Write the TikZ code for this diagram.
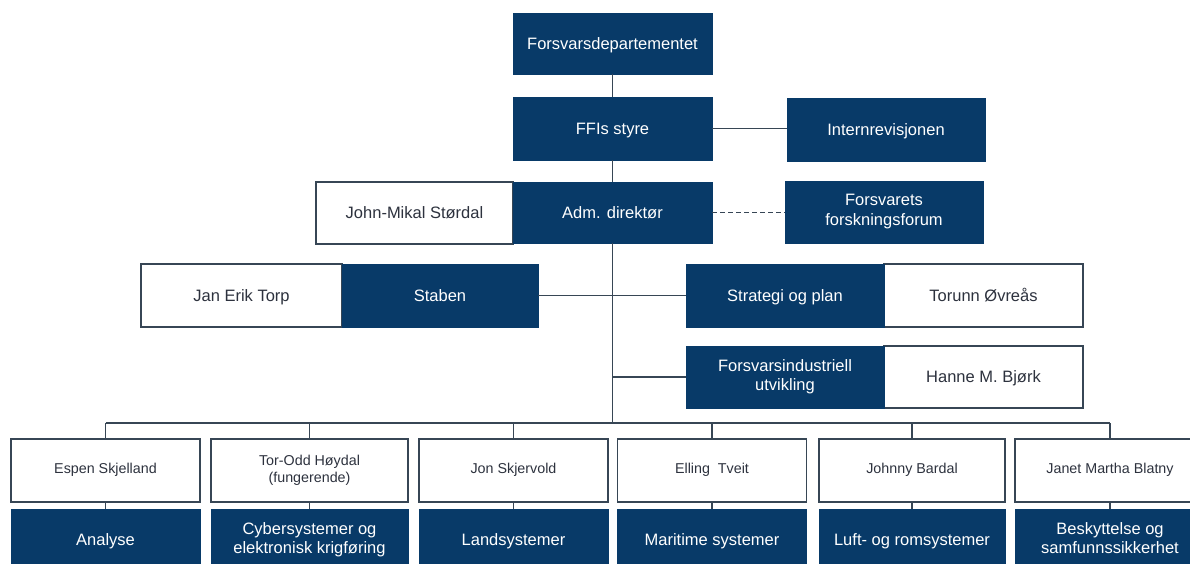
\documentclass[tikz,border=0pt]{standalone}
\usepackage{fontspec}
\setmainfont{Liberation Sans}
\definecolor{navy}{RGB}{8,58,104}
\definecolor{edge}{RGB}{55,70,85}
\definecolor{ink}{RGB}{45,50,62}
\newcommand\capstrut{\rule[-4pt]{0pt}{19.8pt}}
\newcommand\smallcapstrut{\rule[-3.5pt]{0pt}{13.7pt}}
\tikzset{
  darkbox/.style={rectangle, fill=navy, draw=navy, text=white, inner sep=0pt, outer sep=0pt, align=center, font=\fontsize{16.5}{19.5}\selectfont, execute at begin node={\capstrut}, execute at end node={\capstrut}},
  lightbox/.style={rectangle, fill=white, draw=edge, line width=1.2pt, text=ink, inner sep=0pt, outer sep=0pt, align=center, font=\fontsize{16.5}{19.5}\selectfont, execute at begin node={\capstrut}, execute at end node={\capstrut}},
  namebox/.style={rectangle, fill=white, draw=edge, line width=1.2pt, text=ink, inner sep=0pt, outer sep=0pt, align=center, font=\fontsize{14.3}{17}\selectfont, execute at begin node={\smallcapstrut}, execute at end node={\smallcapstrut}},
  conn/.style={draw=edge, line width=1.2pt},
}
\begin{document}
\begin{tikzpicture}[x=1pt,y=-1pt]
\path[use as bounding box, clip] (0,0) rectangle (1190,564);
\fill[white] (0,0) rectangle (1190,564);

% top part
\node[darkbox, minimum width=199pt, minimum height=61pt] (fd) at (612.5,43.5) {Forsvarsdepartementet};
\node[darkbox, minimum width=199pt, minimum height=63pt] (styre) at (612.5,128.5) {FFIs styre};
\node[darkbox, minimum width=198pt, minimum height=63pt] (intern) at (886,129.5) {Internrevisjonen};
\node[lightbox, minimum width=197pt, minimum height=62pt] (john) at (414.5,213) {John-Mikal Størdal};
\node[darkbox, minimum width=199pt, minimum height=61pt] (adm) at (612.5,212.5) {Adm. direktør};
\node[darkbox, minimum width=198pt, minimum height=62pt] (fff) at (884,212) {Forsvarets\\forskningsforum};

\node[lightbox, minimum width=201pt, minimum height=63pt] (torp) at (241.5,295.5) {Jan Erik Torp};
\node[darkbox, minimum width=196pt, minimum height=63pt] (staben) at (440,295.5) {Staben};
\node[lightbox, minimum width=199pt, minimum height=63pt] (torunn) at (983.5,295.5) {Torunn Øvreås};
\node[darkbox, minimum width=198pt, minimum height=63pt] (strat) at (785,295.5) {Strategi og plan};
\node[lightbox, minimum width=199pt, minimum height=62pt] (hanne) at (983.5,377) {Hanne M. Bjørk};
\node[darkbox, minimum width=198pt, minimum height=62pt] (fi) at (785,377) {Forsvarsindustriell\\utvikling};

% bottom row
\node[namebox, minimum width=189pt, minimum height=63pt] (n1) at (105.5,470.5) {Espen Skjelland};
\node[namebox, minimum width=197pt, minimum height=63pt] (n2) at (309.5,470.5) {Tor-Odd Høydal\\(fungerende)};
\node[namebox, minimum width=189pt, minimum height=63pt] (n3) at (513.5,470.5) {Jon Skjervold};
\node[namebox, minimum width=189pt, minimum height=63pt] (n4) at (712,470.5) {Elling \ Tveit};
\node[namebox, minimum width=186pt, minimum height=63pt] (n5) at (912,470.5) {Johnny Bardal};
\node[namebox, minimum width=190pt, minimum height=63pt] (n6) at (1110,470.5) {Janet Martha Blatny};

\node[darkbox, minimum width=189pt, minimum height=62pt] (d1) at (105.5,540) {Analyse};
\node[darkbox, minimum width=197pt, minimum height=62pt] (d2) at (309.5,540) {Cybersystemer og\\elektronisk krigføring};
\node[darkbox, minimum width=189pt, minimum height=62pt] (d3) at (513.5,540) {Landsystemer};
\node[darkbox, minimum width=189pt, minimum height=62pt] (d4) at (712,540) {Maritime systemer};
\node[darkbox, minimum width=186pt, minimum height=62pt] (d5) at (912,540) {Luft- og romsystemer};
\node[darkbox, minimum width=190pt, minimum height=62pt] (d6) at (1110,540) {Beskyttelse og\\samfunnssikkerhet};

% connectors
\coordinate (bus) at (612.5,423);
\draw[conn] (fd.south) -- (styre.north);
\draw[conn] (styre.south) -- (adm.north);
\draw[conn] (styre.east) -- (styre.east -| intern.west);
\draw[conn, line width=1pt, dash pattern=on 5pt off 3pt] (adm.east) -- (adm.east -| fff.west);
\draw[conn] (adm.south) -- (bus);
\draw[conn] (staben.east) -- (strat.west);
\draw[conn] (fi.west) -- (fi.west -| adm.south);
\draw[conn] (n1.north |- bus) -- (n6.north |- bus);
\foreach \k in {1,...,6} {
  \draw[conn] (n\k.north) -- (n\k.north |- bus);
  \draw[conn] (n\k.south) -- (d\k.north);
}
\end{tikzpicture}
\end{document}
